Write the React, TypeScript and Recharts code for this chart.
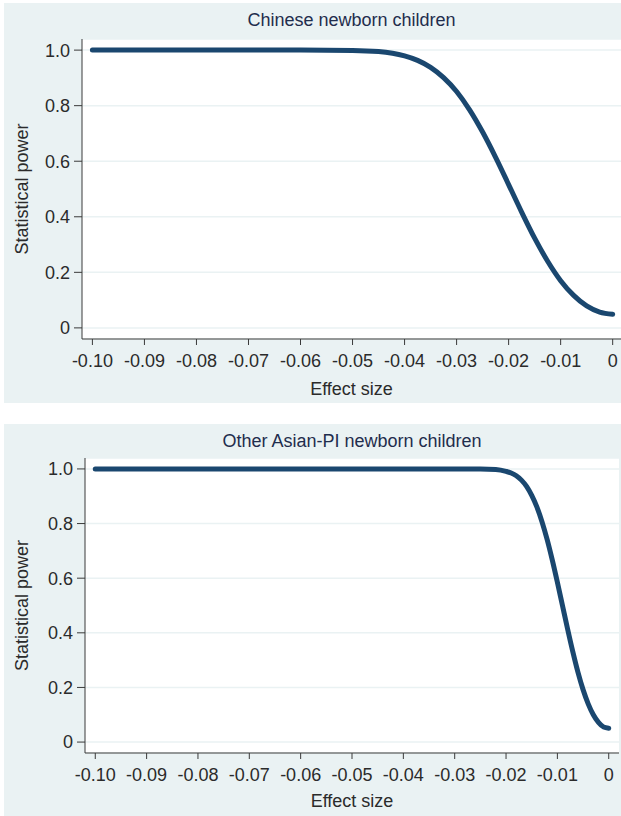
import { LineChart, Line, XAxis, YAxis, CartesianGrid, Label } from "recharts";

const xTicks = [-0.1, -0.09, -0.08, -0.07, -0.06, -0.05, -0.04, -0.03, -0.02, -0.01, 0];
const yTicks = [0, 0.2, 0.4, 0.6, 0.8, 1.0];

// Chinese newborn children
const chineseEffect = [
  -0.1, -0.09, -0.08, -0.07, -0.06, -0.05, -0.045, -0.04, -0.0375, -0.035, -0.0325, -0.03,
  -0.0275, -0.025, -0.0225, -0.02, -0.0175, -0.015, -0.0125, -0.01, -0.0075, -0.005, -0.0025, 0,
];
const chinesePower = [
  1, 1, 1, 1, 1, 0.999, 0.995, 0.979, 0.963, 0.938, 0.901, 0.851,
  0.785, 0.705, 0.614, 0.516, 0.417, 0.323, 0.24, 0.17, 0.117, 0.079, 0.057, 0.049,
];

// Other Asian-PI newborn children
const otherEffect = [
  -0.1, -0.09, -0.08, -0.07, -0.06, -0.05, -0.04, -0.03, -0.025, -0.022, -0.02, -0.019,
  -0.018, -0.017, -0.016, -0.015, -0.014, -0.013, -0.012, -0.011, -0.01, -0.009, -0.008,
  -0.007, -0.006, -0.005, -0.004, -0.003, -0.002, -0.001, 0,
];
const otherPower = [
  1, 1, 1, 1, 1, 1, 1, 1, 1, 0.998, 0.991, 0.985,
  0.975, 0.959, 0.936, 0.903, 0.861, 0.807, 0.742, 0.667, 0.585, 0.499, 0.413,
  0.331, 0.256, 0.192, 0.14, 0.1, 0.072, 0.055, 0.051,
];

const BG = "#EAF2F3";
const NAVY = "#1A476F";
const TEXT = "#2b2b2b";
const AXIS = "#3a3a3a";
const FONT = "'Liberation Sans', Arial, Helvetica, sans-serif";

const fmtX = (v: number) => (v === 0 ? "0" : v.toFixed(2));
const fmtY = (v: number) => (v === 0 ? "0" : v.toFixed(1));

type PanelProps = {
  title: string;
  effect: number[];
  power: number[];
  top: number;
  height: number;
  yAxisWidth: number;
  plotTop: number;
  xAxisHeight: number;
  rightMargin: number;
  xMax: number;
  labelOffset: number;
};

const Panel = (p: PanelProps) => {
  const data = p.effect.map((x, i) => ({ x, y: p.power[i] }));
  return (
    <div
      style={{
        position: "absolute",
        left: 4,
        top: p.top,
        width: 617,
        height: p.height,
        background: BG,
        fontFamily: FONT,
      }}
    >
      <div
        style={{
          position: "absolute",
          left: p.yAxisWidth,
          right: p.rightMargin,
          top: 6,
          textAlign: "center",
          fontSize: 18,
          lineHeight: "22px",
          color: "#1f2d4d",
        }}
      >
        {p.title}
      </div>
      <LineChart
        width={617}
        height={p.height}
        data={data}
        margin={{ top: p.plotTop, right: p.rightMargin, bottom: 0, left: 0 }}
        style={{ fontFamily: FONT }}
      >
        <CartesianGrid
          vertical={false}
          fill="#ffffff"
          stroke={BG}
          strokeWidth={1.5}
        />
        <XAxis
          type="number"
          dataKey="x"
          domain={[-0.102, p.xMax]}
          ticks={xTicks}
          tickFormatter={fmtX}
          interval={0}
          height={p.xAxisHeight}
          tickSize={6}
          tickMargin={9}
          stroke={AXIS}
          tick={{ fill: TEXT, fontSize: 18 }}
        >
          <Label
            value="Effect size"
            position="insideBottom"
            offset={p.labelOffset}
            style={{ fill: TEXT, fontSize: 18 }}
          />
        </XAxis>
        <YAxis
          type="number"
          domain={[-0.04, 1.04]}
          ticks={yTicks}
          tickFormatter={fmtY}
          interval={0}
          width={p.yAxisWidth}
          tickSize={8}
          tickMargin={4}
          stroke={AXIS}
          tick={{ fill: TEXT, fontSize: 18 }}
        >
          <Label
            value="Statistical power"
            angle={-90}
            position="insideLeft"
            offset={18}
            style={{ fill: TEXT, fontSize: 18, textAnchor: "middle" }}
          />
        </YAxis>
        <Line
          type="monotone"
          dataKey="y"
          stroke={NAVY}
          strokeWidth={5}
          strokeLinecap="round"
          dot={false}
          activeDot={false}
          isAnimationActive={false}
        />
      </LineChart>
    </div>
  );
};

export default function App() {
  return (
    <div
      style={{
        position: "absolute",
        left: 0,
        top: 0,
        width: 621,
        height: 816,
        background: "#ffffff",
        overflow: "hidden",
      }}
    >
      <Panel
        title="Chinese newborn children"
        effect={chineseEffect}
        power={chinesePower}
        top={3}
        height={400}
        yAxisWidth={78}
        plotTop={36}
        xAxisHeight={64}
        rightMargin={0}
        xMax={0.0016}
        labelOffset={8}
      />
      <Panel
        title="Other Asian-PI newborn children"
        effect={otherEffect}
        power={otherPower}
        top={424}
        height={392}
        yAxisWidth={81}
        plotTop={34}
        xAxisHeight={63}
        rightMargin={2}
        xMax={0.002}
        labelOffset={9}
      />
    </div>
  );
}
